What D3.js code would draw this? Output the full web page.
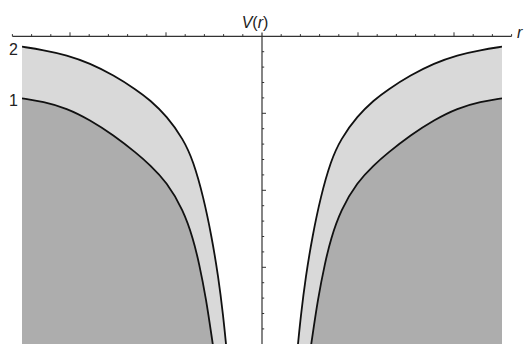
<!DOCTYPE html>
<html>
<head>
<meta charset="utf-8">
<script src="https://cdn.jsdelivr.net/npm/d3@7"></script>
<style>
  body { margin: 0; background: #fff; }
  svg { display: block; font-family: "Liberation Sans", Arial, sans-serif; }
</style>
</head>
<body>
<div id="wrapper"></div>
<script>
// values (left branch, then the mirrored right branch)
const upperR = [-2.5, -2.278, -2.034, -1.792, -1.549, -1.305, -1.167, -0.993, -0.820, -0.716, -0.611, -0.524, -0.455, -0.403, -0.375, -0.365]
const upperV = [-0.135, -0.178, -0.243, -0.351, -0.503, -0.697, -0.827, -1.035, -1.334, -1.619, -2.083, -2.603, -3.122, -3.642, -3.996, -4.12]
const upperRightR = [0.365, 0.375, 0.403, 0.455, 0.524, 0.611, 0.716, 0.820, 0.993, 1.167, 1.305, 1.549, 1.792, 2.034, 2.278, 2.5]
const upperRightV = [-4.12, -3.996, -3.642, -3.122, -2.603, -2.083, -1.619, -1.334, -1.035, -0.827, -0.697, -0.503, -0.351, -0.243, -0.178, -0.135]

const lowerR = [-2.5, -2.278, -2.034, -1.792, -1.549, -1.305, -1.167, -0.993, -0.820, -0.716, -0.656, -0.583, -0.513, -0.499]
const lowerV = [-0.805, -0.849, -0.935, -1.087, -1.282, -1.519, -1.671, -1.892, -2.256, -2.633, -2.944, -3.399, -3.996, -4.115]
const lowerRightR = [0.499, 0.513, 0.583, 0.656, 0.716, 0.820, 0.993, 1.167, 1.305, 1.549, 1.792, 2.034, 2.278, 2.5]
const lowerRightV = [-4.115, -3.996, -3.399, -2.944, -2.633, -2.256, -1.892, -1.671, -1.519, -1.282, -1.087, -0.935, -0.849, -0.805]

const curveLabels = ["2", "1"]
const curveLabelV = [-0.135, -0.805]

function drawChart() {
  const dimensions = {
    width: 525,
    height: 344,
  }

  const wrapper = d3.select("#wrapper")
    .append("svg")
      .attr("width", dimensions.width)
      .attr("height", dimensions.height)

  const xScaler = d3.scaleLinear()
    .domain([-2.6, 2.6])
    .range([12.4, 511.6])
  const yScaler = d3.scaleLinear()
    .domain([0, -4])
    .range([36.3, 344.3])

  const toPoints = (rs, vs) => rs.map((r, i) => ({ r: r, v: vs[i] }))
  const branches = {
    upper: [toPoints(upperR, upperV), toPoints(upperRightR, upperRightV)],
    lower: [toPoints(lowerR, lowerV), toPoints(lowerRightR, lowerRightV)],
  }

  // clip to the plotted range
  wrapper.append("clipPath")
      .attr("id", "plotClip")
    .append("rect")
      .attr("x", xScaler(-2.5))
      .attr("y", 0)
      .attr("width", xScaler(2.5) - xScaler(-2.5))
      .attr("height", dimensions.height)

  const plot = wrapper.append("g").attr("clip-path", "url(#plotClip)")

  const areaGen = d3.area()
    .x(d => xScaler(d.r))
    .y0(dimensions.height + 10)
    .y1(d => yScaler(d.v))
    .curve(d3.curveBasis)

  const lineGen = d3.line()
    .x(d => xScaler(d.r))
    .y(d => yScaler(d.v))
    .curve(d3.curveBasis)

  plot.selectAll(".upperArea")
    .data(branches.upper)
    .enter().append("path")
      .attr("d", areaGen)
      .attr("fill", "#d9d9d9")

  plot.selectAll(".lowerArea")
    .data(branches.lower)
    .enter().append("path")
      .attr("d", areaGen)
      .attr("fill", "#adadad")

  // axes (no tick labels)
  const xTicks = d3.range(-13, 14).filter(i => i !== 0).map(i => i / 5)
  const xAxis = wrapper.append("g")
  xAxis.append("line")
    .attr("x1", xScaler(-2.6)).attr("x2", xScaler(2.6))
    .attr("y1", yScaler(0)).attr("y2", yScaler(0))
    .attr("stroke", "#333").attr("stroke-width", 1.2)
  xAxis.selectAll(".xt")
    .data(xTicks)
    .enter().append("line")
      .attr("x1", d => xScaler(d)).attr("x2", d => xScaler(d))
      .attr("y1", yScaler(0))
      .attr("y2", d => yScaler(0) - (Math.round(d * 5) % 5 === 0 ? 4 : 2.2))
      .attr("stroke", "#333").attr("stroke-width", 1)

  const yTicks = d3.range(1, 20).map(i => -i / 5)
  const yAxis = wrapper.append("g")
  yAxis.append("line")
    .attr("x1", xScaler(0)).attr("x2", xScaler(0))
    .attr("y1", yScaler(0.05)).attr("y2", dimensions.height)
    .attr("stroke", "#333").attr("stroke-width", 1.2)
  yAxis.selectAll(".yt")
    .data(yTicks)
    .enter().append("line")
      .attr("x1", xScaler(0))
      .attr("x2", d => xScaler(0) + (Math.round(d * 5) % 5 === 0 ? 4 : 2.2))
      .attr("y1", d => yScaler(d)).attr("y2", d => yScaler(d))
      .attr("stroke", "#333").attr("stroke-width", 1)

  plot.selectAll(".curve")
    .data(branches.upper.concat(branches.lower))
    .enter().append("path")
      .attr("d", lineGen)
      .attr("fill", "none")
      .attr("stroke", "#111")
      .attr("stroke-width", 1.8)

  // axis labels
  const vLabel = wrapper.append("text")
    .attr("x", 255)
    .attr("y", 28)
    .attr("text-anchor", "middle")
    .attr("font-size", "16px")
    .attr("fill", "#222")
  vLabel.append("tspan").attr("font-style", "italic").text("V")
  vLabel.append("tspan").text("(")
  vLabel.append("tspan").attr("font-style", "italic").text("r")
  vLabel.append("tspan").text(")")

  wrapper.append("text")
    .attr("x", 517)
    .attr("y", 38)
    .attr("font-size", "16px")
    .attr("font-style", "italic")
    .attr("fill", "#222")
    .text("r")

  wrapper.selectAll(".curveLabel")
    .data(curveLabels)
    .enter().append("text")
      .attr("x", 18)
      .attr("y", (d, i) => yScaler(curveLabelV[i]) + 8)
      .attr("text-anchor", "end")
      .attr("font-size", "16px")
      .attr("fill", "#222")
      .text(d => d)
}

drawChart()
</script>
</body>
</html>
